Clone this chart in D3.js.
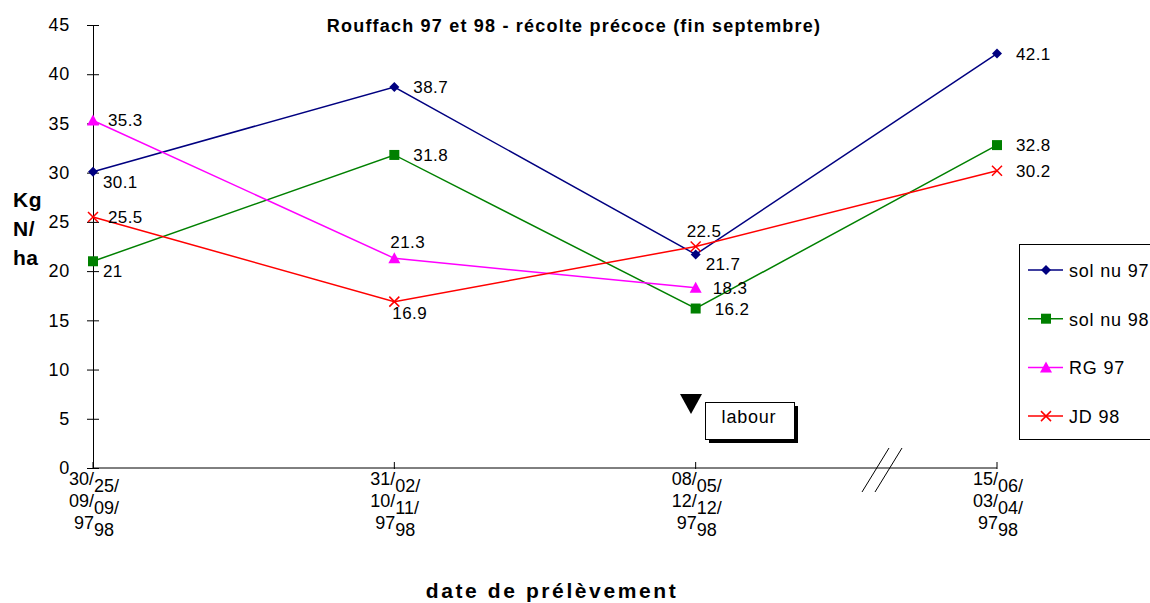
<!DOCTYPE html>
<meta charset="utf-8">
<style>
body { margin: 0; background: #fff; }
text { font-family: "Liberation Sans", Arial, sans-serif; fill: #000; }
.vlabel { font-size: 17px; letter-spacing: 0.4px; }
</style>
<svg width="1150" height="603"></svg>
<script src="https://d3js.org/d3.v7.min.js"></script>
<script>
// data
var dates97 = ["30/\n09/\n97", "31/\n10/\n97", "08/\n12/\n97", "15/\n03/\n97"];
var dates98 = ["25/\n09/\n98", "02/\n11/\n98", "05/\n12/\n98", "06/\n04/\n98"];
var yTicks = [0, 5, 10, 15, 20, 25, 30, 35, 40, 45];

var solnu97 = [30.1, 38.7, 21.7, 42.1];
var solnu98 = [21, 31.8, 16.2, 32.8];
var rg97 = [35.3, 21.3, 18.3, null];
var jd98 = [25.5, 16.9, 22.5, 30.2];

var series = [
  { name: "sol nu 97", values: solnu97, color: "#000080", symbol: "diamond" },
  { name: "sol nu 98", values: solnu98, color: "#008000", symbol: "square" },
  { name: "RG 97", values: rg97, color: "#ff00ff", symbol: "triangle" },
  { name: "JD 98", values: jd98, color: "#ff0000", symbol: "cross" }
];

// value label offsets [dx, dy] per series / point
var labelOffsets = {
  "sol nu 97": [[10, 16], [19, 6], [10, 16], [19, 6]],
  "sol nu 98": [[10, 16], [19, 6], [19, 6], [19, 6]],
  "RG 97": [[15, 6], [-4, -10], [17, 6]],
  "JD 98": [[15, 6], [-2, 17], [-9, -10], [19, 6]]
};

var svg = d3.select("svg");

var x = d3.scalePoint().domain(d3.range(4)).range([93, 997]);
var y = d3.scaleLinear().domain([0, 45]).range([468, 25]);

// title
svg.append("text").attr("x", 574).attr("y", 32).attr("text-anchor", "middle")
  .style("font-size", "18px").style("font-weight", "bold").style("letter-spacing", "1.2px")
  .text("Rouffach 97 et 98 - récolte précoce (fin septembre)");

// y axis
var yAxis = svg.append("g").attr("transform", "translate(93,0)")
  .call(d3.axisLeft(y).tickValues(yTicks).tickSize(6).tickPadding(17));
yAxis.select(".domain").attr("stroke", "#000");
yAxis.selectAll(".tick line").attr("x1", -6).attr("x2", 6);
yAxis.selectAll(".tick text").style("font-size", "18px").style("letter-spacing", "0.8px")
  .style("font-family", "Liberation Sans, Arial, sans-serif");

// y title
var yt = svg.append("text").style("font-size", "21px").style("font-weight", "bold")
  .style("letter-spacing", "0.5px");
["Kg", "N/", "ha"].forEach(function (s, i) {
  yt.append("tspan").attr("x", 13).attr("y", 207 + i * 29).text(s);
});

// x axis line
svg.append("line").attr("x1", 93).attr("x2", 997).attr("y1", y(0)).attr("y2", y(0))
  .attr("stroke", "#000");
svg.selectAll(".xtick").data(d3.range(4)).enter().append("line")
  .attr("x1", function (d) { return x(d); }).attr("x2", function (d) { return x(d); })
  .attr("y1", y(0) - 6).attr("y2", y(0) + 1).attr("stroke", "#000");

// axis break marks
[0, 1].forEach(function (k) {
  svg.append("line").attr("x1", 862 + k * 13).attr("y1", 492).attr("x2", 889 + k * 13).attr("y2", 448)
    .attr("stroke", "#000");
});

// x tick labels (two dates per tick)
function multiline(d, xx, y0, anchor) {
  var t = svg.append("text").attr("text-anchor", anchor).style("font-size", "18px");
  d.split("\n").forEach(function (s, i) {
    t.append("tspan").attr("x", xx).attr("y", y0 + i * 22).text(s);
  });
}
dates97.forEach(function (d, i) { multiline(d, x(i) + 1, 485, "end"); });
dates98.forEach(function (d, i) { multiline(d, x(i) + 1, 492, "start"); });

// x title
svg.append("text").attr("x", 552).attr("y", 598).attr("text-anchor", "middle")
  .style("font-size", "21px").style("font-weight", "bold").style("letter-spacing", "2.6px")
  .text("date de prélèvement");

// markers
function marker(g, sym, color, cx, cy) {
  if (sym === "cross") {
    g.append("path").attr("d", "M-5,-5L5,5M-5,5L5,-5")
      .attr("transform", "translate(" + cx + "," + cy + ")")
      .attr("stroke", color).attr("stroke-width", 1.5).attr("fill", "none");
  } else {
    var p = {
      diamond: "M0,-5L5,0L0,5L-5,0Z",
      square: "M-5,-5H5V5H-5Z",
      triangle: "M0,-6L6,5H-6Z"
    }[sym];
    g.append("path").attr("d", p)
      .attr("transform", "translate(" + cx + "," + cy + ")")
      .attr("fill", color);
  }
}

var line = d3.line().defined(function (d) { return d != null; })
  .x(function (d, i) { return x(i); }).y(function (d) { return y(d); });

series.forEach(function (s) {
  var g = svg.append("g");
  g.append("path").datum(s.values).attr("d", line)
    .attr("fill", "none").attr("stroke", s.color).attr("stroke-width", 1.5);
  s.values.forEach(function (v, i) {
    if (v == null) return;
    marker(g, s.symbol, s.color, x(i), y(v));
  });
});

// value labels on top
series.forEach(function (s) {
  s.values.forEach(function (v, i) {
    if (v == null) return;
    var o = labelOffsets[s.name][i];
    svg.append("text").attr("class", "vlabel")
      .attr("x", x(i) + o[0]).attr("y", y(v) + o[1]).text(v);
  });
});

// labour annotation
svg.append("path").attr("d", "M680,394H702L691,414Z").attr("fill", "#000");
svg.append("rect").attr("x", 709).attr("y", 406).attr("width", 89).attr("height", 37).attr("fill", "#000");
svg.append("rect").attr("x", 705.5).attr("y", 402.5).attr("width", 89).attr("height", 37)
  .attr("fill", "#fff").attr("stroke", "#000");
svg.append("text").attr("x", 749).attr("y", 423).attr("text-anchor", "middle")
  .style("font-size", "18px").style("letter-spacing", "0.8px").text("labour");

// legend
var leg = svg.append("g");
leg.append("rect").attr("x", 1019.5).attr("y", 244.5).attr("width", 150).attr("height", 195)
  .attr("fill", "#fff").attr("stroke", "#000");
series.forEach(function (s, i) {
  var ly = 270 + i * 48.7;
  leg.append("line").attr("x1", 1028).attr("x2", 1063).attr("y1", ly).attr("y2", ly)
    .attr("stroke", s.color).attr("stroke-width", 1.5);
  marker(leg, s.symbol, s.color, 1046, ly);
  leg.append("text").attr("x", 1069).attr("y", ly + 7).style("font-size", "18px")
    .style("letter-spacing", "0.8px").text(s.name);
});
</script>
